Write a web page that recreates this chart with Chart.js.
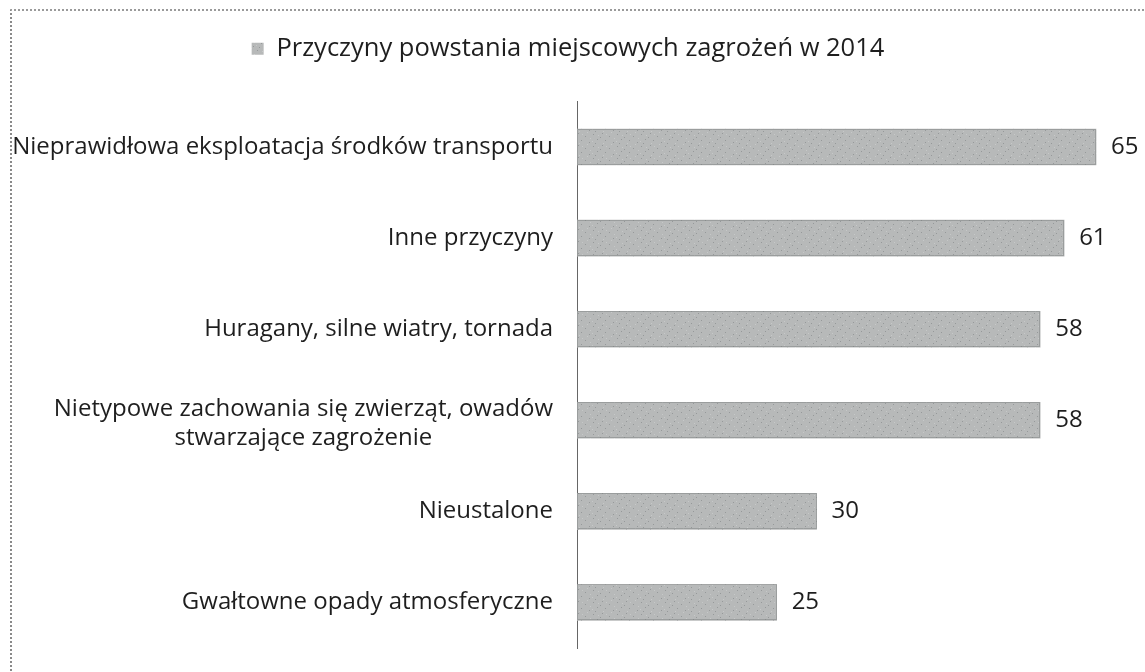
<!DOCTYPE html>
<html lang="pl">
<head>
<meta charset="utf-8">
<title>Przyczyny powstania miejscowych zagrożeń w 2014</title>
<script src="https://cdn.jsdelivr.net/npm/chart.js@4/dist/chart.umd.min.js"></script>
<style>
    html, body { margin: 0; padding: 0; background: #fff; }
    #wrap { position: relative; width: 1145px; height: 672px; overflow: hidden; }
    #ramka {
        position: absolute; left: 10px; top: 9px; width: 1200px; height: 700px;
        border-left: 2px dotted #8a8a8a; border-top: 2px dotted #9a9a9a;
    }
    canvas { position: absolute; left: 0; top: 0; }
</style>
</head>
<body>
<div id="wrap">
    <div id="ramka"></div>
    <canvas id="przyczynyChart" width="1145" height="672"></canvas>
</div>
<script>
// Dane wykresu
const tytulSerii = 'Przyczyny powstania miejscowych zagrożeń w 2014';
const kategorie = [
    ['Nieprawidłowa eksploatacja środków transportu'],
    ['Inne przyczyny'],
    ['Huragany, silne wiatry, tornada'],
    ['Nietypowe zachowania się zwierząt, owadów', 'stwarzające zagrożenie'],
    ['Nieustalone'],
    ['Gwałtowne opady atmosferyczne']
];
const wartosci = [65, 61, 58, 58, 30, 25];

const FONT = '"Open Sans", Lato, sans-serif';
const KOLOR_TEKSTU = '#1e1e1e';
const ROZMIAR = 24;

// Szara faktura słupków (jak w skanie)
function utworzWzor() {
    const c = document.createElement('canvas');
    c.width = 24;
    c.height = 12;
    const g = c.getContext('2d');
    g.fillStyle = '#b7b9b9';
    g.fillRect(0, 0, 24, 12);
    g.fillStyle = '#96999a';
    [[2, 1], [9, 4], [17, 2], [5, 8], [13, 10], [21, 7], [0, 5], [19, 11]].forEach(([x, y]) => g.fillRect(x, y, 1, 1));
    g.fillStyle = '#c6c8c8';
    [[6, 2], [14, 6], [22, 3], [3, 11], [11, 0], [16, 9]].forEach(([x, y]) => g.fillRect(x, y, 1, 1));
    return g.createPattern(c, 'repeat');
}
const wzor = utworzWzor();

// Kropkowana ramka wokół słupków
const ramkiSlupkow = {
    id: 'ramkiSlupkow',
    afterDatasetsDraw(chart) {
        const ctx = chart.ctx;
        const meta = chart.getDatasetMeta(0);
        ctx.save();
        ctx.strokeStyle = '#7d8081';
        ctx.lineWidth = 1;
        ctx.setLineDash([1, 1]);
        meta.data.forEach(bar => {
            const h = bar.height;
            ctx.strokeRect(Math.round(bar.base) + 0.5, Math.round(bar.y - h / 2) + 0.5,
                Math.round(bar.x - bar.base) - 1, Math.round(h) - 1);
        });
        ctx.restore();
    }
};

// Etykiety kategorii po lewej stronie osi
const etykietyKategorii = {
    id: 'etykietyKategorii',
    afterDraw(chart) {
        const ctx = chart.ctx;
        const skalaY = chart.scales.y;
        const prawo = chart.chartArea.left - 24;
        const wysLinii = 29;
        ctx.save();
        ctx.font = ROZMIAR + 'px ' + FONT;
        ctx.fillStyle = KOLOR_TEKSTU;
        ctx.textBaseline = 'middle';
        ctx.textAlign = 'center';
        kategorie.forEach((linie, i) => {
            const y = skalaY.getPixelForTick(i);
            const maxSzer = Math.max(...linie.map(l => ctx.measureText(l).width));
            const srodek = prawo - maxSzer / 2;
            const start = y - (linie.length - 1) * wysLinii / 2 + (linie.length > 1 ? 3 : 0);
            linie.forEach((l, j) => ctx.fillText(l, srodek, start + j * wysLinii));
        });
        ctx.restore();
    }
};

// Wartości przy słupkach
const etykietyWartosci = {
    id: 'etykietyWartosci',
    afterDatasetsDraw(chart) {
        const ctx = chart.ctx;
        const meta = chart.getDatasetMeta(0);
        ctx.save();
        ctx.font = ROZMIAR + 'px ' + FONT;
        ctx.fillStyle = KOLOR_TEKSTU;
        ctx.textBaseline = 'middle';
        ctx.textAlign = 'left';
        meta.data.forEach((bar, i) => {
            ctx.fillText(String(wartosci[i]), bar.x + 15, bar.y);
        });
        ctx.restore();
    }
};

const ctx = document.getElementById('przyczynyChart').getContext('2d');

const przyczynyChart = new Chart(ctx, {
    type: 'bar',
    data: {
        labels: kategorie,
        datasets: [{
            label: tytulSerii,
            data: wartosci,
            backgroundColor: wzor,
            borderColor: '#7d8081',
            borderWidth: 0,
            barThickness: 36
        }]
    },
    options: {
        indexAxis: 'y',
        responsive: false,
        animation: false,
        layout: {
            padding: { left: 0, right: 9, top: 18, bottom: 24 }
        },
        plugins: {
            legend: {
                display: true,
                position: 'top',
                labels: {
                    boxWidth: 12,
                    boxHeight: 12,
                    padding: 18,
                    color: KOLOR_TEKSTU,
                    font: { family: FONT, size: 25.5 }
                }
            },
            tooltip: { enabled: false }
        },
        scales: {
            x: {
                display: true,
                position: 'top',
                min: 0,
                max: 70,
                grid: { display: false },
                border: { display: false },
                ticks: { display: false },
                afterFit(skala) {
                    skala.height = 30;
                }
            },
            y: {
                display: true,
                grid: { display: false },
                border: { display: true, color: '#666', width: 1, dash: [2, 2] },
                ticks: { display: false },
                afterFit(skala) {
                    skala.width = 577;
                }
            }
        }
    },
    plugins: [ramkiSlupkow, etykietyKategorii, etykietyWartosci]
});
</script>
</body>
</html>
